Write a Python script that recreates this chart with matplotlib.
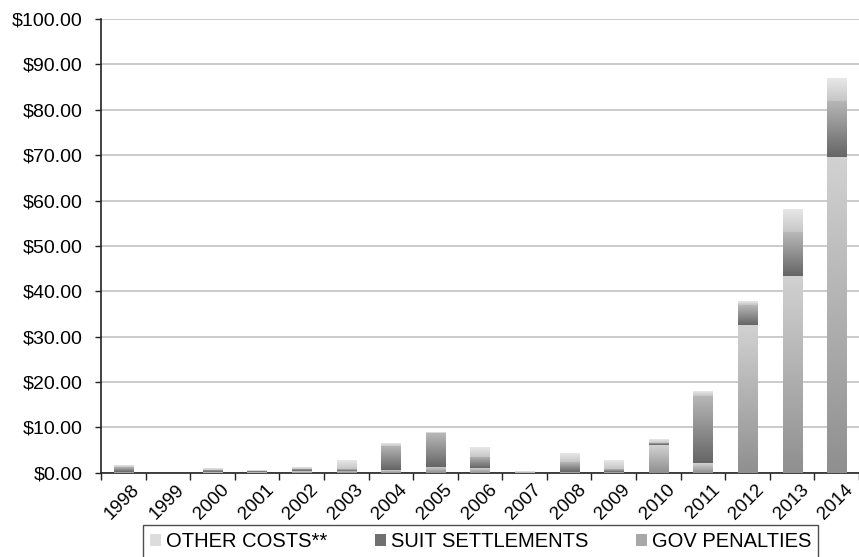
import numpy as np
import matplotlib
matplotlib.use("Agg")
import matplotlib.pyplot as plt
from matplotlib.colors import LinearSegmentedColormap
from matplotlib.patches import Patch
import matplotlib.transforms as mtransforms

plt.rcParams['font.family'] = ['Liberation Sans', 'DejaVu Sans']

years = ['1998','1999','2000','2001','2002','2003','2004','2005','2006','2007',
         '2008','2009','2010','2011','2012','2013','2014']
gov_penalties = [0.3, 0.0, 0.2, 0.1, 0.4, 0.5, 0.6, 1.4, 1.0, 0.1,
                 0.3, 0.3, 6.1, 2.2, 32.6, 43.4, 69.6]
suit_settlements = [1.1, 0.0, 0.5, 0.3, 0.5, 0.4, 5.4, 7.3, 2.5, 0.1,
                    2.2, 0.5, 0.5, 14.8, 4.4, 9.6, 12.4]
other_costs = [0.4, 0.0, 0.3, 0.1, 0.4, 1.8, 0.6, 0.2, 2.2, 0.1,
               1.9, 1.8, 0.8, 0.9, 0.7, 4.9, 5.0]

series = [
    ('GOV PENALTIES', gov_penalties, ('#8f8f8f', '#d2d2d2'), '#a8a8a8'),
    ('SUIT SETTLEMENTS', suit_settlements, ('#656565', '#b8b8b8'), '#707070'),
    ('OTHER COSTS**', other_costs, ('#c6c6c6', '#e8e8e8'), '#dcdcdc'),
]

fig = plt.figure(figsize=(8.59, 5.57), dpi=100)
ax = fig.add_axes([0.1176, 0.151, 0.8824, 0.815])

x = np.arange(len(years))
width = 0.43
grad = np.linspace(0, 1, 256).reshape(-1, 1)
bottom = np.zeros(len(years))
for name, vals, (c_lo, c_hi), _ in series:
    vals = np.array(vals)
    cmap = LinearSegmentedColormap.from_list(name, [c_lo, c_hi])
    bars = ax.bar(x, vals, width, bottom=bottom, color='none', edgecolor='none')
    for b in bars:
        h = b.get_height()
        if h <= 0:
            continue
        x0 = b.get_x()
        y0 = b.get_y()
        ax.imshow(grad, extent=[x0, x0 + b.get_width(), y0, y0 + h],
                  origin='lower', aspect='auto', cmap=cmap, zorder=3,
                  interpolation='bilinear')
    bottom += vals

ax.set_xlim(-0.5, len(years) - 0.5)
ax.set_ylim(0, 100)
ax.set_yticks(np.arange(0, 101, 10))
ax.set_yticklabels([f'${v:.2f}' for v in range(0, 101, 10)], fontsize=14)
ax.yaxis.grid(True, color='#bdbdbd', linewidth=1.1)
ax.set_axisbelow(True)

ax.set_xticks(x)
ax.set_xticklabels(years, rotation=45, ha='right', va='top',
                   rotation_mode='anchor', fontsize=13.5)
ax.set_xticks(np.arange(-0.5, len(years), 1), minor=True)
ax.tick_params(axis='x', which='major', length=0, pad=6)
ax.tick_params(axis='x', which='minor', length=5, width=1, color='#222222')
ax.tick_params(axis='y', length=4, width=1, color='#222222', pad=9)
offset = mtransforms.ScaledTranslation(0.08, 0, fig.dpi_scale_trans)
for lbl in ax.get_xticklabels():
    lbl.set_transform(lbl.get_transform() + offset)

for s in ['top', 'right']:
    ax.spines[s].set_visible(False)
for s in ['left', 'bottom']:
    ax.spines[s].set_color('#222222')
    ax.spines[s].set_linewidth(1.2)

handles = [Patch(facecolor=series[2][3], label=series[2][0]),
           Patch(facecolor=series[1][3], label=series[1][0]),
           Patch(facecolor=series[0][3], label=series[0][0])]
leg = fig.legend(handles=handles, loc='upper left', ncol=3,
                 bbox_to_anchor=(143/859, 1 - 525/557),
                 fontsize=14.5, frameon=True, fancybox=False,
                 handlelength=0.55, handleheight=0.55, handletextpad=0.25,
                 columnspacing=2.35, borderpad=0.35, borderaxespad=0)
leg.get_frame().set_edgecolor('#222222')
leg.get_frame().set_linewidth(1.0)

fig.savefig('out.png', dpi=100)
